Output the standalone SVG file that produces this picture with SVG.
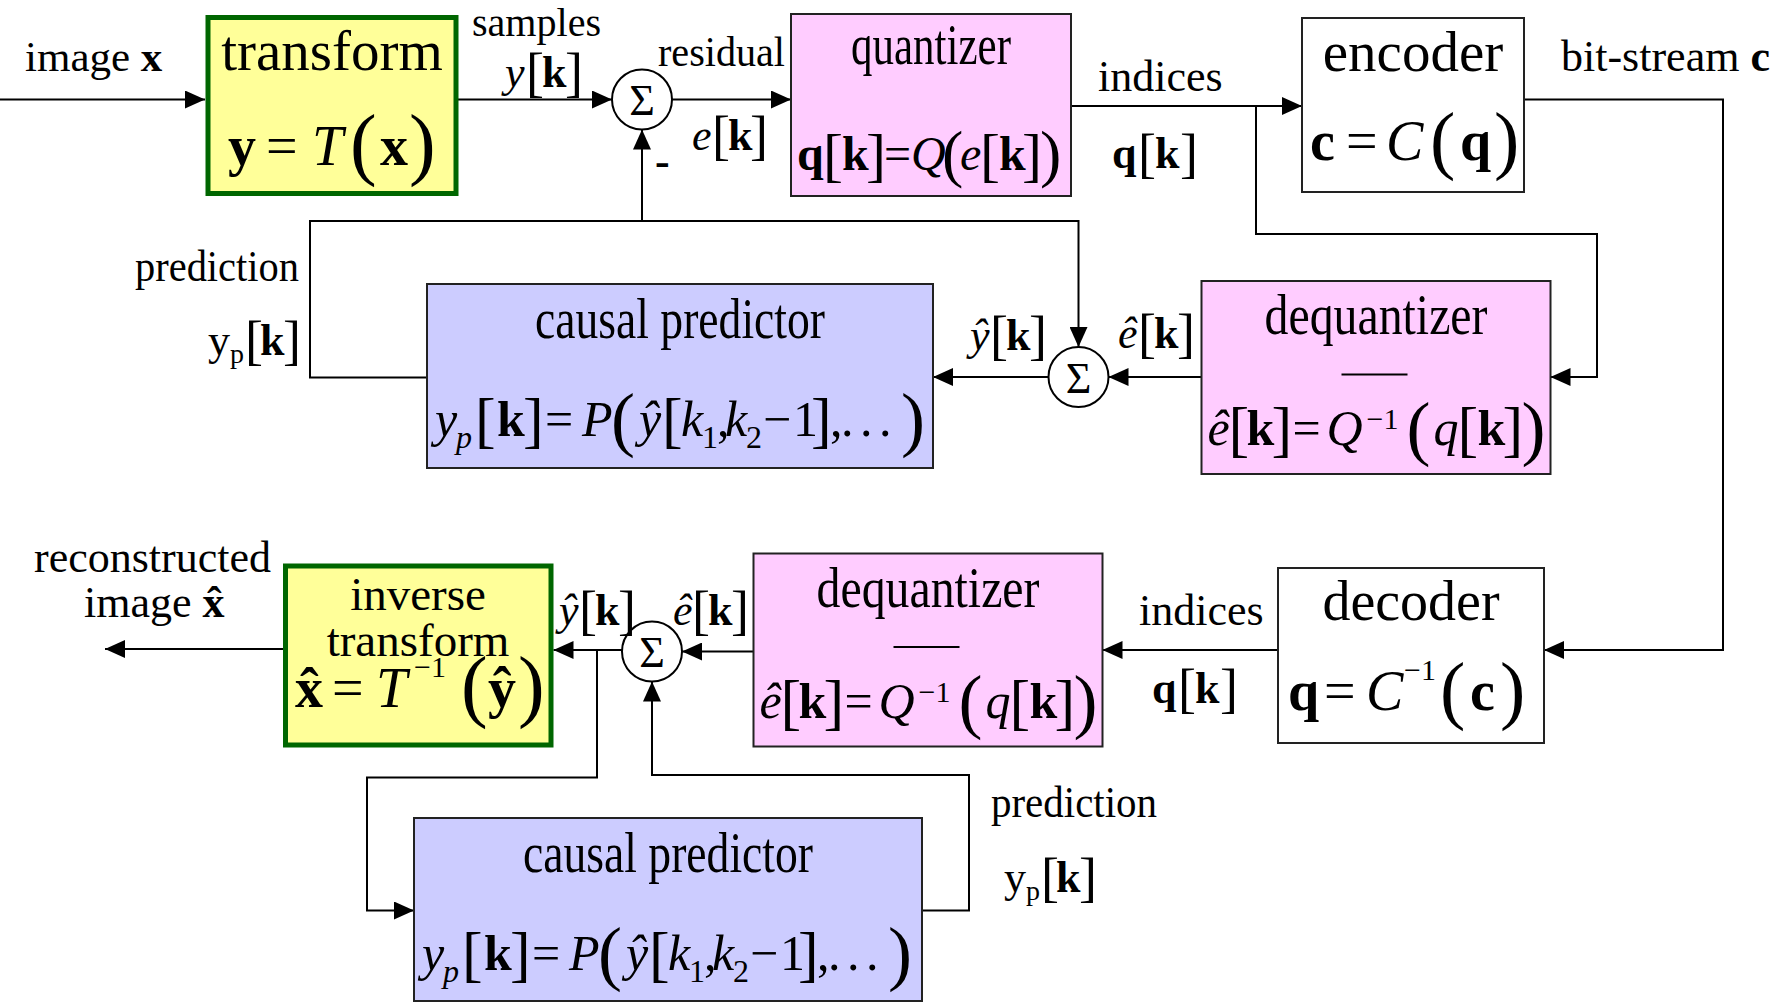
<svg xmlns="http://www.w3.org/2000/svg" width="1789" height="1003" viewBox="0 0 1789 1003">
<style>
text{font-family:"Liberation Serif","Times New Roman",serif;fill:#000}
.b{font-weight:bold}
.i{font-style:italic}
.m{text-anchor:middle}
.box{stroke:#222;stroke-width:2}
.grn{fill:#FFFF99;stroke:#006600;stroke-width:5}
.pink{fill:#FFCCFF}
.blue{fill:#CCCCFF}
.wht{fill:#FFFFFF}
.sum{fill:#FFFFFF;stroke:#000;stroke-width:2}
.c{fill:none;stroke:#000;stroke-width:2}
.ov{stroke:#000;stroke-width:2}
</style>
<defs>
<marker id="arr" markerUnits="userSpaceOnUse" markerWidth="20" markerHeight="18" refX="20" refY="9" orient="auto">
<path d="M0,0 L20,9 L0,18 z" fill="#000"/>
</marker>
</defs>

<g id="connectors">
<path class="c" d="M0,99.5 H205" marker-end="url(#arr)"/>
<path class="c" d="M458,99.5 H612" marker-end="url(#arr)"/>
<path class="c" d="M672,99.5 H791" marker-end="url(#arr)"/>
<path class="c" d="M1071,106 H1302" marker-end="url(#arr)"/>
<path class="c" d="M1256,106 V234 H1597 V377 H1550.5" marker-end="url(#arr)"/>
<path class="c" d="M1524,99.5 H1723 V650 H1544" marker-end="url(#arr)"/>
<path class="c" d="M427,377.5 H310 V221 H1078.5 V347" marker-end="url(#arr)"/>
<path class="c" d="M642,221 V129.5" marker-end="url(#arr)"/>
<path class="c" d="M1201.5,377 H1108.5" marker-end="url(#arr)"/>
<path class="c" d="M1048.5,377 H933" marker-end="url(#arr)"/>
<path class="c" d="M1278,650 H1102.5" marker-end="url(#arr)"/>
<path class="c" d="M753.5,651.5 H682" marker-end="url(#arr)"/>
<path class="c" d="M622,650 H553.5" marker-end="url(#arr)"/>
<path class="c" d="M283,649 H105" marker-end="url(#arr)"/>
<path class="c" d="M597,650 V777.5 H367 V910.5 H414" marker-end="url(#arr)"/>
<path class="c" d="M922,910.5 H969 V775 H652 V681.5" marker-end="url(#arr)"/>
</g>

<g id="n-transform">
<rect class="grn" x="208" y="17.5" width="248" height="176"/>
<text class="m" x="332" y="70" font-size="57">transform</text>
<text font-size="56" y="165"><tspan class="b" x="228">y</tspan><tspan x="266">=</tspan><tspan class="i" x="312">T</tspan><tspan x="350" y="170" font-size="80">(</tspan><tspan class="b" x="380" y="165">x</tspan><tspan x="409" y="170" font-size="80">)</tspan></text>
</g>

<g id="n-sum1">
<circle class="sum" cx="642" cy="99.5" r="30"/>
<text class="m" x="642" y="115" font-size="44">Σ</text>
</g>

<g id="n-quantizer">
<rect class="box pink" x="791" y="14" width="280" height="182"/>
<text class="m" x="931" y="64" font-size="56" textLength="160" lengthAdjust="spacingAndGlyphs">quantizer</text>
<text font-size="48" y="170"><tspan class="b" x="797">q</tspan><tspan x="823" y="175" font-size="60">[</tspan><tspan class="b" x="842" y="170">k</tspan><tspan x="866" y="175" font-size="60">]</tspan><tspan x="884" y="170">=</tspan><tspan class="i" x="911">Q</tspan><tspan x="942" y="175" font-size="64">(</tspan><tspan class="i" x="960" y="170">e</tspan><tspan x="980" y="175" font-size="60">[</tspan><tspan class="b" x="999" y="170">k</tspan><tspan x="1022" y="175" font-size="60">]</tspan><tspan x="1040" y="175" font-size="64">)</tspan></text>
</g>

<g id="n-encoder">
<rect class="box wht" x="1302" y="18" width="222" height="174"/>
<text class="m" x="1413" y="71" font-size="57">encoder</text>
<text font-size="56" y="160"><tspan class="b" x="1310">c</tspan><tspan x="1346">=</tspan><tspan class="i" x="1386">C</tspan><tspan x="1430" y="165" font-size="76">(</tspan><tspan class="b" x="1460" y="160">q</tspan><tspan x="1494" y="165" font-size="76">)</tspan></text>
</g>

<g id="n-predictor1" transform="translate(427,284)">
<rect class="box blue" x="0" y="0" width="506" height="184"/>
<text class="m" x="253" y="54" font-size="56" textLength="290" lengthAdjust="spacingAndGlyphs">causal predictor</text>
<text font-size="50" y="152"><tspan class="i" x="8">y</tspan><tspan class="i" x="29" y="164" font-size="32">p</tspan><tspan x="48" y="157" font-size="62">[</tspan><tspan class="b" x="70" y="152">k</tspan><tspan x="96" y="157" font-size="62">]</tspan><tspan x="118" y="152">=</tspan><tspan class="i" x="155">P</tspan><tspan x="184" y="159" font-size="72">(</tspan><tspan class="i" x="212" y="152">ŷ</tspan><tspan x="235" y="157" font-size="62">[</tspan><tspan class="i" x="254" y="152">k</tspan><tspan x="275" y="164" font-size="32">1</tspan><tspan x="290" y="152">,</tspan><tspan class="i" x="298">k</tspan><tspan x="319" y="164" font-size="32">2</tspan><tspan x="336" y="152">−</tspan><tspan x="366">1</tspan><tspan x="384" y="157" font-size="62">]</tspan><tspan x="403" y="152">,</tspan><tspan x="414">.</tspan><tspan x="433">.</tspan><tspan x="452">.</tspan><tspan x="474" y="159" font-size="72">)</tspan></text>
</g>

<g id="n-sum2">
<circle class="sum" cx="1078.5" cy="377" r="30"/>
<text class="m" x="1078.5" y="392.5" font-size="44">Σ</text>
</g>

<g id="n-dequantizer1" transform="translate(1201.5,281)">
<rect class="box pink" x="0" y="0" width="349" height="193"/>
<text class="m" x="174.5" y="53" font-size="56" textLength="223" lengthAdjust="spacingAndGlyphs">dequantizer</text>
<line class="ov" x1="140" y1="93.5" x2="206" y2="93.5"/>
<text font-size="50" y="164"><tspan class="i" x="6">ê</tspan><tspan x="27" y="169" font-size="62">[</tspan><tspan class="b" x="45" y="164">k</tspan><tspan x="70" y="169" font-size="62">]</tspan><tspan x="91" y="164">=</tspan><tspan class="i" x="125">Q</tspan><tspan x="165" y="148" font-size="30">−1</tspan><tspan x="205" y="171" font-size="72">(</tspan><tspan class="i" x="232" y="164">q</tspan><tspan x="256" y="169" font-size="62">[</tspan><tspan class="b" x="276" y="164">k</tspan><tspan x="301" y="169" font-size="62">]</tspan><tspan x="320" y="171" font-size="72">)</tspan></text>
</g>

<g id="n-inverse">
<rect class="grn" x="285.5" y="566" width="265.5" height="179"/>
<text class="m" x="418" y="610" font-size="47">inverse</text>
<text class="m" x="418" y="656" font-size="47">transform</text>
<text font-size="56" y="707"><tspan class="b" x="295">x</tspan><tspan class="b" x="300">ˆ</tspan><tspan x="332">=</tspan><tspan class="i" x="376">T</tspan><tspan x="414" y="677" font-size="30">−1</tspan><tspan x="461" y="712" font-size="80">(</tspan><tspan class="b" x="488" y="707">ŷ</tspan><tspan x="518" y="712" font-size="80">)</tspan></text>
</g>

<g id="n-sum3">
<circle class="sum" cx="652" cy="651.5" r="30"/>
<text class="m" x="652" y="667" font-size="44">Σ</text>
</g>

<g id="n-dequantizer2" transform="translate(753.5,553.5)">
<rect class="box pink" x="0" y="0" width="349" height="193"/>
<text class="m" x="174.5" y="53" font-size="56" textLength="223" lengthAdjust="spacingAndGlyphs">dequantizer</text>
<line class="ov" x1="140" y1="93.5" x2="206" y2="93.5"/>
<text font-size="50" y="164"><tspan class="i" x="6">ê</tspan><tspan x="27" y="169" font-size="62">[</tspan><tspan class="b" x="45" y="164">k</tspan><tspan x="70" y="169" font-size="62">]</tspan><tspan x="91" y="164">=</tspan><tspan class="i" x="125">Q</tspan><tspan x="165" y="148" font-size="30">−1</tspan><tspan x="205" y="171" font-size="72">(</tspan><tspan class="i" x="232" y="164">q</tspan><tspan x="256" y="169" font-size="62">[</tspan><tspan class="b" x="276" y="164">k</tspan><tspan x="301" y="169" font-size="62">]</tspan><tspan x="320" y="171" font-size="72">)</tspan></text>
</g>

<g id="n-decoder">
<rect class="box wht" x="1278" y="568" width="266" height="175"/>
<text class="m" x="1411" y="620" font-size="56">decoder</text>
<text font-size="56" y="710"><tspan class="b" x="1288">q</tspan><tspan x="1324">=</tspan><tspan class="i" x="1366">C</tspan><tspan x="1404" y="680" font-size="30">−1</tspan><tspan x="1440" y="715" font-size="76">(</tspan><tspan class="b" x="1470" y="710">c</tspan><tspan x="1500" y="715" font-size="76">)</tspan></text>
</g>

<g id="n-predictor2" transform="translate(414,818)">
<rect class="box blue" x="0" y="0" width="508" height="183"/>
<text class="m" x="254" y="54" font-size="56" textLength="290" lengthAdjust="spacingAndGlyphs">causal predictor</text>
<text font-size="50" y="152"><tspan class="i" x="8">y</tspan><tspan class="i" x="29" y="164" font-size="32">p</tspan><tspan x="48" y="157" font-size="62">[</tspan><tspan class="b" x="70" y="152">k</tspan><tspan x="96" y="157" font-size="62">]</tspan><tspan x="118" y="152">=</tspan><tspan class="i" x="155">P</tspan><tspan x="184" y="159" font-size="72">(</tspan><tspan class="i" x="212" y="152">ŷ</tspan><tspan x="235" y="157" font-size="62">[</tspan><tspan class="i" x="254" y="152">k</tspan><tspan x="275" y="164" font-size="32">1</tspan><tspan x="290" y="152">,</tspan><tspan class="i" x="298">k</tspan><tspan x="319" y="164" font-size="32">2</tspan><tspan x="336" y="152">−</tspan><tspan x="366">1</tspan><tspan x="384" y="157" font-size="62">]</tspan><tspan x="403" y="152">,</tspan><tspan x="414">.</tspan><tspan x="433">.</tspan><tspan x="452">.</tspan><tspan x="474" y="159" font-size="72">)</tspan></text>
</g>

<g id="labels">
<text x="25" y="71" font-size="43">image <tspan class="b">x</tspan></text>
<text x="472" y="36" font-size="40" textLength="129" lengthAdjust="spacingAndGlyphs">samples</text>
<text font-size="44" y="87"><tspan class="i" x="505">y</tspan><tspan x="526" y="91" font-size="54">[</tspan><tspan class="b" x="542" y="87">k</tspan><tspan x="565" y="91" font-size="54">]</tspan></text>
<text x="658" y="66" font-size="42" textLength="127" lengthAdjust="spacingAndGlyphs">residual</text>
<text font-size="44" y="150"><tspan class="i" x="692">e</tspan><tspan x="712" y="154" font-size="54">[</tspan><tspan class="b" x="728" y="150">k</tspan><tspan x="750" y="154" font-size="54">]</tspan></text>
<text class="b" x="655" y="176" font-size="44">-</text>
<text x="1098" y="91" font-size="44">indices</text>
<text font-size="44" y="168"><tspan class="b" x="1112">q</tspan><tspan x="1138" y="172" font-size="54">[</tspan><tspan class="b" x="1155" y="168">k</tspan><tspan x="1180" y="172" font-size="54">]</tspan></text>
<text x="1561" y="71" font-size="44">bit-stream <tspan class="b">c</tspan></text>
<text x="135" y="281" font-size="44" textLength="164" lengthAdjust="spacingAndGlyphs">prediction</text>
<text font-size="44" y="355"><tspan x="208">y</tspan><tspan x="230" y="363" font-size="28">p</tspan><tspan x="245" y="359" font-size="54">[</tspan><tspan class="b" x="260" y="355">k</tspan><tspan x="283" y="359" font-size="54">]</tspan></text>
<text font-size="44" y="350"><tspan class="i" x="970">ŷ</tspan><tspan x="990" y="354" font-size="54">[</tspan><tspan class="b" x="1006" y="350">k</tspan><tspan x="1029" y="354" font-size="54">]</tspan></text>
<text font-size="44" y="348"><tspan class="i" x="1118">ê</tspan><tspan x="1138" y="352" font-size="54">[</tspan><tspan class="b" x="1154" y="348">k</tspan><tspan x="1177" y="352" font-size="54">]</tspan></text>
<text x="34" y="572" font-size="44">reconstructed</text>
<text x="84" y="617" font-size="44">image <tspan class="b">x</tspan><tspan class="b" x="207">ˆ</tspan></text>
<text font-size="44" y="625"><tspan class="i" x="559">ŷ</tspan><tspan x="579" y="629" font-size="54">[</tspan><tspan class="b" x="595" y="625">k</tspan><tspan x="618" y="629" font-size="54">]</tspan></text>
<text font-size="44" y="625"><tspan class="i" x="673">ê</tspan><tspan x="692" y="629" font-size="54">[</tspan><tspan class="b" x="708" y="625">k</tspan><tspan x="731" y="629" font-size="54">]</tspan></text>
<text x="1139" y="625" font-size="44">indices</text>
<text font-size="44" y="703"><tspan class="b" x="1152">q</tspan><tspan x="1178" y="707" font-size="54">[</tspan><tspan class="b" x="1195" y="703">k</tspan><tspan x="1220" y="707" font-size="54">]</tspan></text>
<text x="991" y="817" font-size="44" textLength="166" lengthAdjust="spacingAndGlyphs">prediction</text>
<text font-size="44" y="892"><tspan x="1004">y</tspan><tspan x="1026" y="900" font-size="28">p</tspan><tspan x="1041" y="896" font-size="54">[</tspan><tspan class="b" x="1056" y="892">k</tspan><tspan x="1079" y="896" font-size="54">]</tspan></text>
</g>
</svg>
